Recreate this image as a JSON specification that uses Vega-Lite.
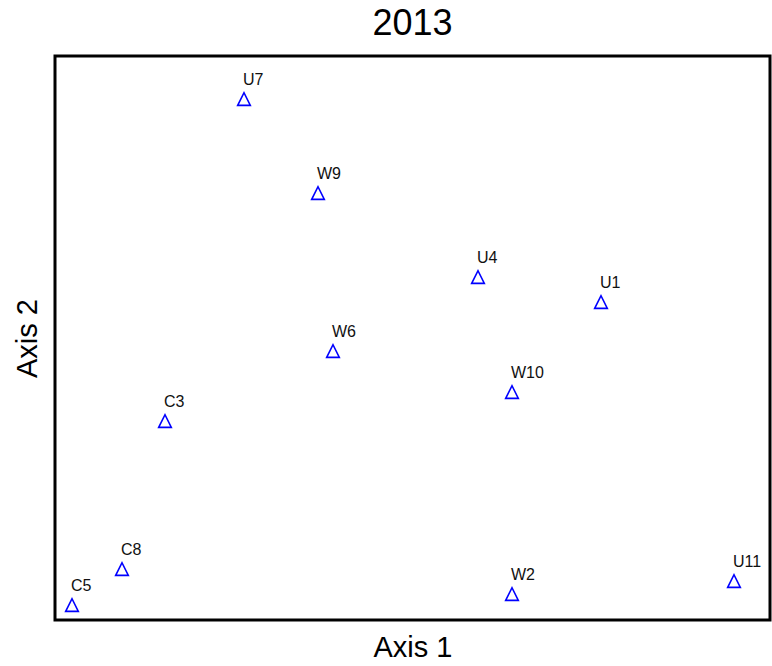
{
  "$schema": "https://vega.github.io/schema/vega-lite/v6.json",
  "width": 715,
  "height": 564,
  "autosize": "none",
  "padding": {"left": 55, "top": 56, "right": 2, "bottom": 46},
  "background": "white",
  "title": {
    "text": "2013",
    "font": "Liberation Sans",
    "fontSize": 36,
    "fontWeight": "normal",
    "color": "black",
    "anchor": "middle",
    "offset": 13
  },
  "config": {
    "view": {"stroke": "black", "strokeWidth": 3},
    "axis": {
      "domain": false,
      "ticks": false,
      "labels": false,
      "grid": false,
      "titleFont": "Liberation Sans",
      "titleFontSize": 29,
      "titleFontWeight": "normal",
      "titleColor": "black",
      "titleBaseline": "alphabetic"
    }
  },
  "data": {
    "values": [
      {"site": "U7", "axis1": 189, "axis2": 521},
      {"site": "W9", "axis1": 263, "axis2": 427},
      {"site": "U4", "axis1": 423, "axis2": 343},
      {"site": "U1", "axis1": 546, "axis2": 318},
      {"site": "W6", "axis1": 278, "axis2": 269},
      {"site": "W10", "axis1": 457, "axis2": 228},
      {"site": "C3", "axis1": 110, "axis2": 199},
      {"site": "C8", "axis1": 67, "axis2": 51},
      {"site": "C5", "axis1": 17, "axis2": 15},
      {"site": "W2", "axis1": 457, "axis2": 26},
      {"site": "U11", "axis1": 679, "axis2": 39}
    ]
  },
  "encoding": {
    "x": {
      "field": "axis1",
      "type": "quantitative",
      "scale": {"domain": [0, 715], "nice": false, "zero": false},
      "axis": {"title": "Axis 1", "titlePadding": 36}
    },
    "y": {
      "field": "axis2",
      "type": "quantitative",
      "scale": {"domain": [0, 564], "nice": false, "zero": false},
      "axis": {"title": "Axis 2", "titlePadding": 19}
    }
  },
  "layer": [
    {
      "mark": {
        "type": "point",
        "shape": "M-1,1L0,-1L1,1Z",
        "filled": false,
        "stroke": "#0000ff",
        "strokeWidth": 1.6,
        "opacity": 1,
        "size": 160
      }
    },
    {
      "mark": {
        "type": "text",
        "align": "left",
        "baseline": "alphabetic",
        "dx": -1,
        "dy": -14,
        "font": "Liberation Sans",
        "fontSize": 16,
        "color": "#111111"
      },
      "encoding": {"text": {"field": "site"}}
    }
  ]
}
